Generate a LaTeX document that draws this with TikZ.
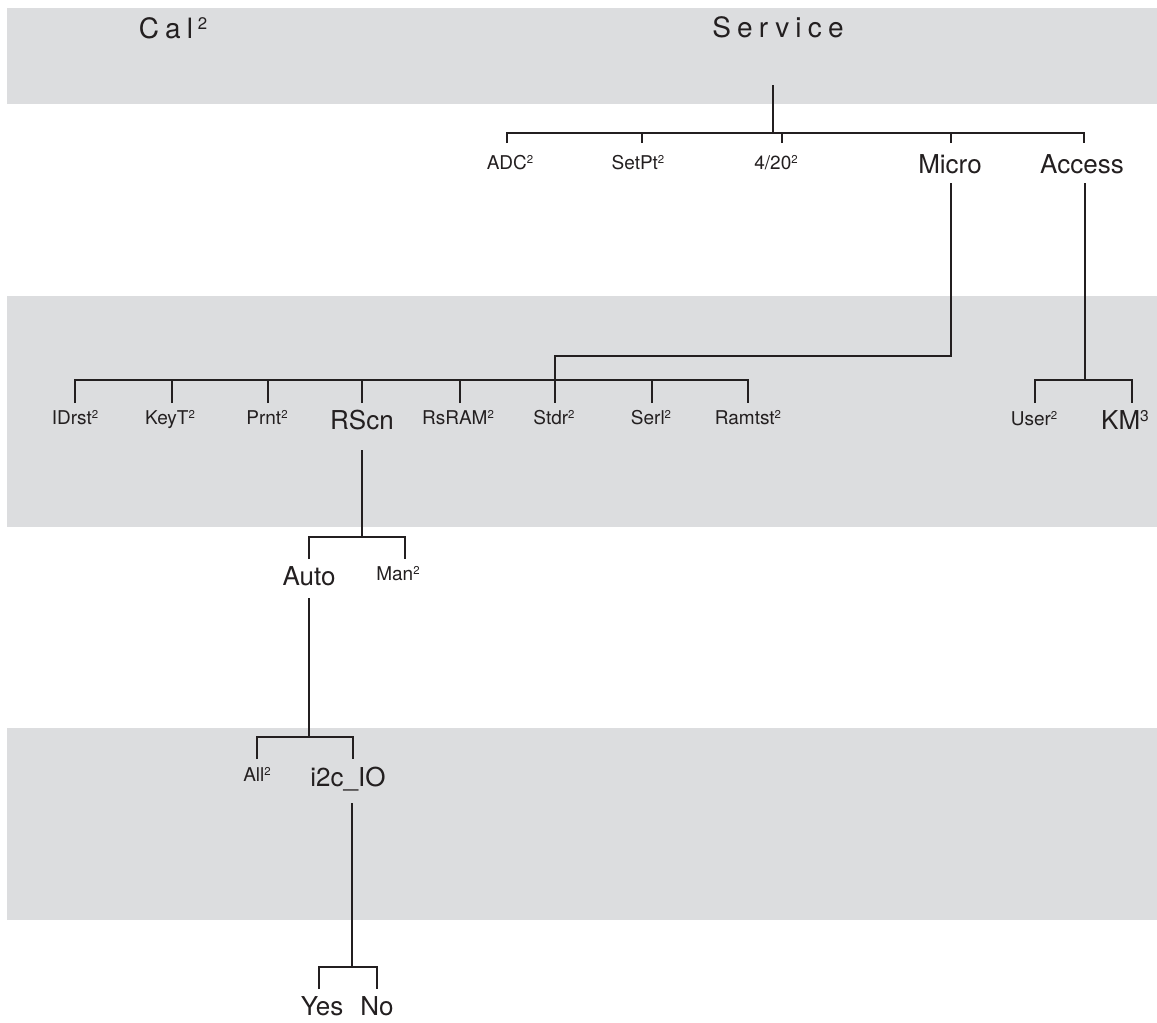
\documentclass[tikz,border=0pt]{standalone}
\usepackage{fontspec}
\setmainfont{TeX Gyre Heros}
\newfontfamily\spacedfont[LetterSpace=22]{TeX Gyre Heros}
\definecolor{bandgray}{RGB}{220,221,223}
\definecolor{ink}{RGB}{35,31,32}
\newcommand\spx[1]{\raisebox{0.29em}{\scalebox{0.6}{#1}}}
\tikzset{
  lab/.style={anchor=base, inner sep=0pt, outer sep=0pt, text=ink},
  small/.style={lab, font=\fontsize{19}{22}\selectfont},
  big/.style={lab, font=\fontsize{26}{30}\selectfont},
  title/.style={lab, font=\spacedfont\fontsize{28}{32}\selectfont},
  link/.style={draw=ink, line width=2.9pt, line join=miter},
  band/.style={fill=bandgray, draw=none}
}
\begin{document}
\begin{tikzpicture}[x=1pt,y=-1pt]
\useasboundingbox (0,0) rectangle (1157,1023);
% background bands
\fill[band] (7,8) rectangle (1157,104);
\fill[band] (7,296) rectangle (1157,527);
\fill[band] (7,728) rectangle (1157,920);

% titles
\node[title] (cal) at (173,38) {Cal\,\spx{2}};
\node[title] (service) at (778,37) {Service};

% level 1
\node[small] (adc) at (510,169) {ADC\spx{2}};
\node[small] (setpt) at (638,169) {SetPt\spx{2}};
\node[small] (four) at (776,169) {4/20\spx{2}};
\node[big] (micro) at (950,173) {Micro};
\node[big] (access) at (1082,173) {Access};

% level 2
\node[small] (idrst) at (75,424) {IDrst\spx{2}};
\node[small] (keyt) at (170,424) {KeyT\spx{2}};
\node[small] (prnt) at (267,424) {Prnt\spx{2}};
\node[big] (rscn) at (362,429) {RScn};
\node[small] (rsram) at (458,424) {RsRAM\spx{2}};
\node[small] (stdr) at (554,424) {Stdr\spx{2}};
\node[small] (serl) at (651,424) {Serl\spx{2}};
\node[small] (ramtst) at (748,424) {Ramtst\spx{2}};
\node[small] (user) at (1034,425) {User\spx{2}};
\node[big] (km) at (1125,429) {KM\spx{3}};

% level 3
\node[big] (auto) at (309,585) {Auto};
\node[small] (man) at (398,580) {Man\spx{2}};

% level 4
\node[small] (all) at (257,781) {All\spx{2}};
\node[big] (i2c) at (348,786) {i2c\_IO};

% level 5
\node[big] (yes) at (322,1015) {Yes};
\node[big] (no) at (377,1015) {No};

% ---- connectors ----
% Service family
\coordinate (svcfoot) at (773,85);
\coordinate (f1) at (773,133);
\coordinate (tadc) at (507,143);
\coordinate (tsetpt) at (642,143);
\coordinate (tfour) at (782,143);
\coordinate (tmicro) at (951,143);
\coordinate (taccess) at (1084,143);
\draw[link] (svcfoot) -- (f1);
\draw[link] (tadc) -- (tadc |- f1) -- (taccess |- f1) -- (taccess);
\draw[link] (tsetpt) -- (tsetpt |- f1);
\draw[link] (tfour) -- (tfour |- f1);
\draw[link] (tmicro) -- (tmicro |- f1);

% Micro family
\coordinate (micfoot) at (951,183);
\coordinate (micbend) at (951,356);
\coordinate (f2) at (555,380);
\coordinate (tidrst) at (75,403);
\coordinate (tkeyt) at (172,403);
\coordinate (tprnt) at (268,403);
\coordinate (trscn) at (362,403);
\coordinate (trsram) at (460,403);
\coordinate (tstdr) at (555,403);
\coordinate (tserl) at (652,403);
\coordinate (tramtst) at (748,403);
\draw[link] (micfoot) -- (micbend) -| (tstdr);
\draw[link] (tidrst) -- (tidrst |- f2) -- (tramtst |- f2) -- (tramtst);
\foreach \t in {tkeyt,tprnt,trscn,trsram,tserl}
  \draw[link] (\t) -- (\t |- f2);

% Access family
\coordinate (accfoot) at (1085,183);
\coordinate (f3) at (1085,380);
\coordinate (tuser) at (1035,403);
\coordinate (tkm) at (1132,403);
\draw[link] (accfoot) -- (f3);
\draw[link] (tuser) -- (tuser |- f3) -- (tkm |- f3) -- (tkm);

% RScn family
\coordinate (rscnfoot) at (362,450);
\coordinate (f4) at (362,537);
\coordinate (tauto) at (309,559);
\coordinate (tman) at (405,559);
\draw[link] (rscnfoot) -- (f4);
\draw[link] (tauto) -- (tauto |- f4) -- (tman |- f4) -- (tman);

% Auto family
\coordinate (autofoot) at (309,598);
\coordinate (f5) at (309,737);
\coordinate (tall) at (257,759);
\coordinate (ti2c) at (353,759);
\draw[link] (autofoot) -- (f5);
\draw[link] (tall) -- (tall |- f5) -- (ti2c |- f5) -- (ti2c);

% i2c_IO family
\coordinate (i2cfoot) at (352,803);
\coordinate (f6) at (352,967);
\coordinate (tyes) at (319,989);
\coordinate (tno) at (377,989);
\draw[link] (i2cfoot) -- (f6);
\draw[link] (tyes) -- (tyes |- f6) -- (tno |- f6) -- (tno);
\end{tikzpicture}
\end{document}
